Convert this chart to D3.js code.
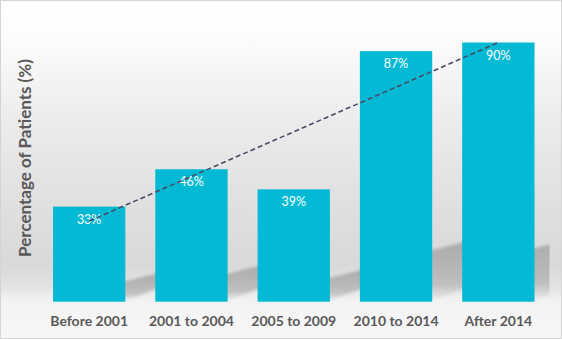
<!DOCTYPE html>
<html><head><meta charset="utf-8">
<script src="https://cdn.jsdelivr.net/npm/d3@7"></script>
<style>html,body{margin:0;padding:0;background:#fff;}svg{display:block;}</style>
</head><body>
<script>
const categories = ["Before 2001", "2001 to 2004", "2005 to 2009", "2010 to 2014", "After 2014"];
const values = [33, 46, 39, 87, 90];
const valueLabels = ["33%", "46%", "39%", "87%", "90%"];
const yTitle = "Percentage of Patients (%)";

const W = 562, H = 339;
const svg = d3.select("body").append("svg").attr("width", W).attr("height", H);
const defs = svg.append("defs");

const bg = defs.append("linearGradient").attr("id","bg").attr("x1",0).attr("y1",0).attr("x2",0).attr("y2",1);
[[0,"#ffffff"],[0.1,"#fdfdfd"],[0.35,"#ececec"],[0.6,"#e0e0e0"],[0.78,"#d9d9d9"],[0.85,"#e3e3e3"],[0.89,"#f3f3f3"],[1,"#f7f7f7"]]
  .forEach(([o,c]) => bg.append("stop").attr("offset",o).attr("stop-color",c));

const sh = defs.append("linearGradient").attr("id","sh").attr("x1",0).attr("y1",0).attr("x2",0).attr("y2",1);
sh.append("stop").attr("offset",0).attr("stop-color","#a8a8a8").attr("stop-opacity",0.95);
sh.append("stop").attr("offset",0.7).attr("stop-color","#b0b0b0").attr("stop-opacity",0.7);
sh.append("stop").attr("offset",1).attr("stop-color","#c8c8c8").attr("stop-opacity",0);

defs.append("filter").attr("id","blur").attr("x","-20%").attr("y","-20%").attr("width","140%").attr("height","140%")
  .append("feGaussianBlur").attr("stdDeviation",1.6);

svg.append("rect").attr("x",0.5).attr("y",0.5).attr("width",W-1).attr("height",H-1)
  .attr("fill","url(#bg)").attr("stroke","#d4d4d4").attr("stroke-width",1);

const x = d3.scaleBand().domain(categories).range([38, 549.5]).paddingInner(0.293).paddingOuter(0.1465);
const y = d3.scaleLinear().domain([0, 100]).range([301.7, 13.7]);
const base = y(0);

defs.append("clipPath").attr("id","plotclip").append("rect")
  .attr("x", 38).attr("y", 0).attr("width", 549.5 - 38).attr("height", base);

// shadows
const sg = svg.append("g").attr("clip-path","url(#plotclip)");
sg.selectAll("path.sh").data(values).join("path")
  .attr("fill","url(#sh)").attr("filter","url(#blur)")
  .attr("d", (d,i) => {
    const R = x(categories[i]) + x.bandwidth();
    const h = (base - y(d)) * 0.2;
    const p = [[R-6, base+1],[R-6, base - h],[R+34, base - h - 10],[R+34, base - 14]];
    return "M" + p.map(q => q.join(",")).join("L") + "Z";
  });

// bars
svg.selectAll("rect.bar").data(values).join("rect").attr("class","bar")
  .attr("x",(d,i)=>x(categories[i])).attr("width",x.bandwidth())
  .attr("y",d=>y(d)).attr("height",d=>base - y(d))
  .attr("fill","#03b9d4");

// value labels
svg.selectAll("text.val").data(values).join("text").attr("class","val")
  .attr("x",(d,i)=>x(categories[i]) + x.bandwidth()/2)
  .attr("y",d=>y(d) + 17)
  .attr("text-anchor","middle").attr("fill","#ffffff")
  .style("font-family","Lato, 'Open Sans', sans-serif").style("font-size","12.5px")
  .text((d,i)=>valueLabels[i]);

// linear trendline (least squares on category index)
const n = values.length;
const xs = values.map((d,i)=>i+1);
const mx = d3.mean(xs), my = d3.mean(values);
const slope = d3.sum(xs.map((xi,i)=>(xi-mx)*(values[i]-my))) / d3.sum(xs.map(xi=>(xi-mx)*(xi-mx)));
const icpt = my - slope*mx;
const cx = i => x(categories[i]) + x.bandwidth()/2;
svg.append("line")
  .attr("x1", cx(0)).attr("y1", y(icpt + slope*1))
  .attr("x2", cx(n-1)).attr("y2", y(icpt + slope*n))
  .attr("stroke","#4a4a62").attr("stroke-width",1.6).attr("stroke-dasharray","5,3");

// x axis labels
const xAxis = d3.axisBottom(x).tickSize(0).tickPadding(0);
const gx = svg.append("g").attr("transform",`translate(0,${base})`).call(xAxis);
gx.select(".domain").remove();
gx.selectAll("text").attr("y", 0).attr("dy", 0).attr("transform","translate(0,24.5)")
  .attr("fill","#595959")
  .style("font-family","Lato, 'Open Sans', sans-serif").style("font-size","14px").style("font-weight","bold");

// y title
svg.append("text").attr("transform",`translate(31,158) rotate(-90)`)
  .attr("text-anchor","middle").attr("fill","#595959")
  .style("font-family","Lato, 'Open Sans', sans-serif").style("font-size","17px").style("font-weight","bold")
  .text(yTitle);
</script>
</body></html>
